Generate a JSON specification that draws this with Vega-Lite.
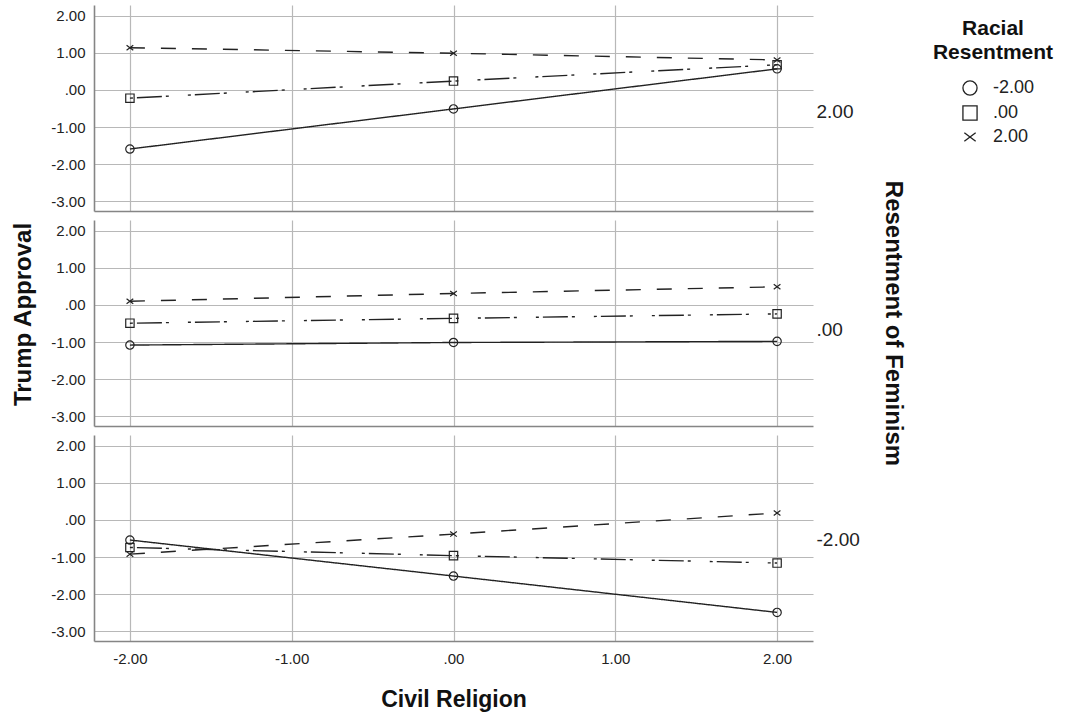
{
  "$schema": "https://vega.github.io/schema/vega-lite/v6.json",
  "padding": {"left": 11, "top": 5, "right": 5, "bottom": 5},
  "background": "white",
  "bounds": "flush",
  "data": {"values": [
    {"fem": "2.00", "rr": "-2.00", "civ": -2, "y": -1.59},
    {"fem": "2.00", "rr": "-2.00", "civ": 0, "y": -0.51},
    {"fem": "2.00", "rr": "-2.00", "civ": 2, "y": 0.57},
    {"fem": "2.00", "rr": ".00", "civ": -2, "y": -0.22},
    {"fem": "2.00", "rr": ".00", "civ": 0, "y": 0.24},
    {"fem": "2.00", "rr": ".00", "civ": 2, "y": 0.68},
    {"fem": "2.00", "rr": "2.00", "civ": -2, "y": 1.14},
    {"fem": "2.00", "rr": "2.00", "civ": 0, "y": 0.99},
    {"fem": "2.00", "rr": "2.00", "civ": 2, "y": 0.81},
    {"fem": ".00", "rr": "-2.00", "civ": -2, "y": -1.08},
    {"fem": ".00", "rr": "-2.00", "civ": 0, "y": -1.01},
    {"fem": ".00", "rr": "-2.00", "civ": 2, "y": -0.98},
    {"fem": ".00", "rr": ".00", "civ": -2, "y": -0.49},
    {"fem": ".00", "rr": ".00", "civ": 0, "y": -0.36},
    {"fem": ".00", "rr": ".00", "civ": 2, "y": -0.24},
    {"fem": ".00", "rr": "2.00", "civ": -2, "y": 0.10},
    {"fem": ".00", "rr": "2.00", "civ": 0, "y": 0.31},
    {"fem": ".00", "rr": "2.00", "civ": 2, "y": 0.49},
    {"fem": "-2.00", "rr": "-2.00", "civ": -2, "y": -0.54},
    {"fem": "-2.00", "rr": "-2.00", "civ": 0, "y": -1.51},
    {"fem": "-2.00", "rr": "-2.00", "civ": 2, "y": -2.49},
    {"fem": "-2.00", "rr": ".00", "civ": -2, "y": -0.74},
    {"fem": "-2.00", "rr": ".00", "civ": 0, "y": -0.96},
    {"fem": "-2.00", "rr": ".00", "civ": 2, "y": -1.16},
    {"fem": "-2.00", "rr": "2.00", "civ": -2, "y": -0.92},
    {"fem": "-2.00", "rr": "2.00", "civ": 0, "y": -0.38},
    {"fem": "-2.00", "rr": "2.00", "civ": 2, "y": 0.19}
  ]},
  "spacing": 9,
  "config": {
    "font": "Liberation Sans",
    "view": {"stroke": null},
    "axis": {
      "labelFont": "Liberation Sans", "labelFontSize": 15, "labelColor": "#222",
      "titleFont": "Liberation Sans", "titleFontSize": 24, "titleFontWeight": "bold", "titleColor": "#111",
      "gridColor": "#b8b8b8", "gridWidth": 1.2, "gridOpacity": 1,
      "domainColor": "#858585", "domainWidth": 1.6,
      "ticks": false
    },
    "legend": {
      "titleFont": "Liberation Sans", "titleFontSize": 21, "titleFontWeight": "bold", "titleColor": "#111",
      "labelFont": "Liberation Sans", "labelFontSize": 18, "labelColor": "#222"
    }
  },
  "vconcat": [
    {
      "width": 719, "height": 206,
      "transform": [{"filter": "datum.fem == '2.00'"}],
      "resolve": {"scale": {"y": "independent"}},
      "layer": [
        {
          "mark": {"type": "line", "color": "#222", "strokeWidth": 1.4},
          "encoding": {
            "x": {"field": "civ", "type": "quantitative", "scale": {"domain": [-2.222, 2.222], "nice": false, "zero": false},
                  "axis": {"values": [-2, -1, 0, 1, 2], "labels": false, "title": null}},
            "y": {"field": "y", "type": "quantitative", "scale": {"domain": [-3.26, 2.29], "nice": false, "zero": false},
                  "axis": {"values": [-3, -2, -1, 0, 1, 2], "labelExpr": "datum.value == 0 ? '.00' : (datum.value < 0 ? '-' + format(-datum.value, '.2f') : format(datum.value, '.2f'))", "labelPadding": 9, "title": null}},
            "strokeDash": {"field": "rr", "type": "nominal", "scale": {"domain": ["2.00", ".00", "-2.00"], "range": [[15, 16], [3, 4, 25, 4, 3, 19], [1, 0]]}, "legend": null}
          }
        },
        {
          "mark": {"type": "point", "filled": false, "color": "#222", "strokeWidth": 1.2, "size": 70, "opacity": 1},
          "encoding": {
            "x": {"field": "civ", "type": "quantitative"},
            "y": {"field": "y", "type": "quantitative", "scale": {"domain": [-3.26, 2.29], "nice": false, "zero": false},
                  "axis": {"orient": "right", "values": [-0.59], "labelExpr": "'2.00'", "labelFontSize": 19, "labelPadding": 3, "labelBaseline": "middle", "domain": false, "grid": false, "ticks": false, "title": null}},
            "shape": {"field": "rr", "type": "nominal",
              "scale": {"domain": ["-2.00", ".00", "2.00"], "range": ["circle", "square", "M-0.8,-0.6L0.8,0.6M-0.8,0.6L0.8,-0.6"]},
              "legend": {"title": ["Racial", "Resentment"], "offset": 15, "padding": 13,
                "titleAnchor": "middle", "titleAlign": "center", "titleLineHeight": 24, "titlePadding": 16,
                "labelOffset": 14, "symbolOffset": 10,
                "symbolSize": 200, "symbolStrokeColor": "#222", "symbolFillColor": "transparent", "symbolStrokeWidth": 1.3, "rowPadding": 5}}
          }
        }
      ]
    },
    {
      "width": 719, "height": 206,
      "transform": [{"filter": "datum.fem == '.00'"}],
      "resolve": {"scale": {"y": "independent"}},
      "layer": [
        {
          "mark": {"type": "line", "color": "#222", "strokeWidth": 1.4},
          "encoding": {
            "x": {"field": "civ", "type": "quantitative", "scale": {"domain": [-2.222, 2.222], "nice": false, "zero": false},
                  "axis": {"values": [-2, -1, 0, 1, 2], "labels": false, "title": null}},
            "y": {"field": "y", "type": "quantitative", "scale": {"domain": [-3.26, 2.29], "nice": false, "zero": false},
                  "axis": {"values": [-3, -2, -1, 0, 1, 2], "labelExpr": "datum.value == 0 ? '.00' : (datum.value < 0 ? '-' + format(-datum.value, '.2f') : format(datum.value, '.2f'))", "labelPadding": 9, "title": "Trump Approval", "titlePadding": 15, "titleY": 94}},
            "strokeDash": {"field": "rr", "type": "nominal", "scale": {"domain": ["2.00", ".00", "-2.00"], "range": [[15, 16], [3, 4, 25, 4, 3, 19], [1, 0]]}, "legend": null}
          }
        },
        {
          "mark": {"type": "point", "filled": false, "color": "#222", "strokeWidth": 1.2, "size": 70, "opacity": 1},
          "encoding": {
            "x": {"field": "civ", "type": "quantitative"},
            "y": {"field": "y", "type": "quantitative", "scale": {"domain": [-3.26, 2.29], "nice": false, "zero": false},
                  "axis": {"orient": "right", "values": [-0.67], "labelExpr": "'.00'", "labelFontSize": 19, "labelPadding": 3, "labelBaseline": "middle", "domain": false, "grid": false, "ticks": false, "title": "Resentment of Feminism", "titlePadding": 38}},
            "shape": {"field": "rr", "type": "nominal",
              "scale": {"domain": ["-2.00", ".00", "2.00"], "range": ["circle", "square", "M-0.8,-0.6L0.8,0.6M-0.8,0.6L0.8,-0.6"]}}
          }
        }
      ]
    },
    {
      "width": 719, "height": 206,
      "transform": [{"filter": "datum.fem == '-2.00'"}],
      "resolve": {"scale": {"y": "independent"}},
      "layer": [
        {
          "mark": {"type": "line", "color": "#222", "strokeWidth": 1.4},
          "encoding": {
            "x": {"field": "civ", "type": "quantitative", "scale": {"domain": [-2.222, 2.222], "nice": false, "zero": false},
                  "axis": {"values": [-2, -1, 0, 1, 2], "labelExpr": "datum.value == 0 ? '.00' : (datum.value < 0 ? '-' + format(-datum.value, '.2f') : format(datum.value, '.2f'))", "labelPadding": 10, "title": "Civil Religion", "titleFontSize": 23, "titlePadding": 22}},
            "y": {"field": "y", "type": "quantitative", "scale": {"domain": [-3.26, 2.29], "nice": false, "zero": false},
                  "axis": {"values": [-3, -2, -1, 0, 1, 2], "labelExpr": "datum.value == 0 ? '.00' : (datum.value < 0 ? '-' + format(-datum.value, '.2f') : format(datum.value, '.2f'))", "labelPadding": 9, "title": null}},
            "strokeDash": {"field": "rr", "type": "nominal", "scale": {"domain": ["2.00", ".00", "-2.00"], "range": [[15, 16], [3, 4, 25, 4, 3, 19], [1, 0]]}, "legend": null}
          }
        },
        {
          "mark": {"type": "point", "filled": false, "color": "#222", "strokeWidth": 1.2, "size": 70, "opacity": 1},
          "encoding": {
            "x": {"field": "civ", "type": "quantitative"},
            "y": {"field": "y", "type": "quantitative", "scale": {"domain": [-3.26, 2.29], "nice": false, "zero": false},
                  "axis": {"orient": "right", "values": [-0.53], "labelExpr": "'-2.00'", "labelFontSize": 19, "labelPadding": 3, "labelBaseline": "middle", "domain": false, "grid": false, "ticks": false, "title": null}},
            "shape": {"field": "rr", "type": "nominal",
              "scale": {"domain": ["-2.00", ".00", "2.00"], "range": ["circle", "square", "M-0.8,-0.6L0.8,0.6M-0.8,0.6L0.8,-0.6"]}}
          }
        }
      ]
    }
  ]
}
